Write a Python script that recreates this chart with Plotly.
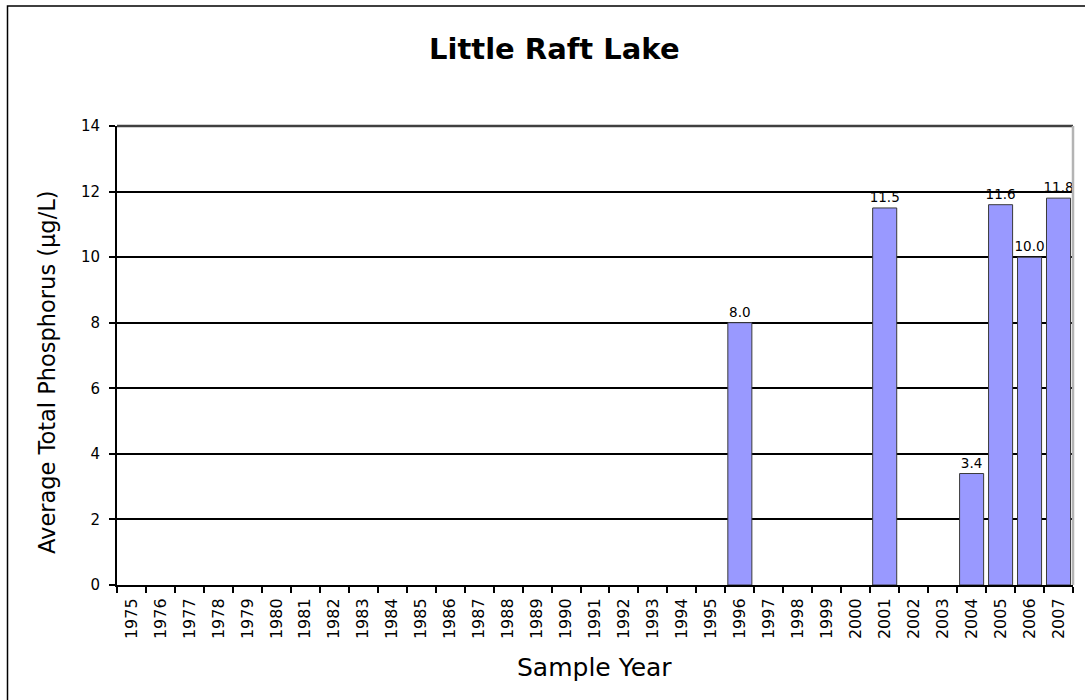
import plotly.graph_objects as go

# Sample years on the category axis and the yearly average total phosphorus (µg/L)
years = [str(y) for y in range(1975, 2008)]
sampled_years = ["1996", "2001", "2004", "2005", "2006", "2007"]
sampled_values = [8.0, 11.5, 3.4, 11.6, 10.0, 11.8]

lookup = dict(zip(sampled_years, sampled_values))
values = [lookup.get(y) for y in years]

y_ticks = [0, 2, 4, 6, 8, 10, 12, 14]

FONT = "DejaVu Sans"
W, H = 1085, 700
L, R, T, B = 117, 12, 126, 115
PW, PH = W - L - R, H - T - B


def px_x(x):
    return (x - L) / PW


def px_y(y):
    return (H - B - y) / PH


fig = go.Figure(
    go.Bar(
        x=years,
        y=values,
        marker=dict(color="#9999FF", line=dict(color="#3a3a3a", width=1)),
        texttemplate="%{y:.1f}",
        textposition="outside",
        constraintext="none",
        textfont=dict(family=FONT, size=13.5, color="black"),
        cliponaxis=False,
        hoverinfo="x+y",
    )
)

fig.update_layout(
    width=W,
    height=H,
    margin=dict(l=L, r=R, t=T, b=B, autoexpand=False),
    paper_bgcolor="white",
    plot_bgcolor="white",
    bargap=0.17,
    showlegend=False,
    font=dict(family=FONT, color="black"),
    uniformtext=dict(mode=False),
)

fig.update_xaxes(
    type="category",
    categoryorder="array",
    categoryarray=years,
    range=[-0.5, len(years) - 0.5],
    showline=True,
    linecolor="black",
    linewidth=2,
    ticks="outside",
    tickson="boundaries",
    ticklen=6,
    tickwidth=2,
    tickcolor="black",
    tickangle=-90,
    ticklabelstandoff=5,
    tickfont=dict(family=FONT, size=16, color="black"),
    showgrid=False,
    fixedrange=True,
)

fig.update_yaxes(
    range=[0, 14],
    tickvals=y_ticks,
    ticktext=[str(v) for v in y_ticks],
    showline=True,
    linecolor="black",
    linewidth=2,
    ticks="outside",
    ticklen=6,
    tickwidth=2,
    tickcolor="black",
    ticklabelstandoff=6,
    tickfont=dict(family=FONT, size=15, color="black"),
    showgrid=True,
    gridcolor="black",
    gridwidth=1.5,
    zeroline=False,
    fixedrange=True,
)

# Plot-area frame: dark top edge, light grey right edge
fig.add_shape(type="line", xref="paper", yref="paper", x0=0, x1=1, y0=1, y1=1,
              line=dict(color="#404040", width=2.5))
fig.add_shape(type="line", xref="paper", yref="paper", x0=1, x1=1, y0=0, y1=1,
              line=dict(color="#b4b4b4", width=2.5))

# Outer chart border
fig.add_shape(type="rect", xref="paper", yref="paper",
              x0=px_x(7.5), x1=px_x(1100), y0=px_y(715), y1=px_y(6),
              line=dict(color="black", width=1.5), layer="below")

fig.add_annotation(text="<b>Little Raft Lake</b>", xref="paper", yref="paper",
                   x=px_x(554), y=px_y(49), xanchor="center", yanchor="middle",
                   showarrow=False, font=dict(family=FONT, size=29, color="black"))
fig.add_annotation(text="Sample Year", xref="paper", yref="paper",
                   x=px_x(594), y=px_y(667), xanchor="center", yanchor="middle",
                   showarrow=False, font=dict(family=FONT, size=25, color="black"))
fig.add_annotation(text="Average Total Phosphorus (µg/L)", xref="paper", yref="paper",
                   x=px_x(47), y=px_y(372), xanchor="center", yanchor="middle",
                   textangle=-90, showarrow=False,
                   font=dict(family=FONT, size=22.5, color="black"))

fig.write_html("out.html")
